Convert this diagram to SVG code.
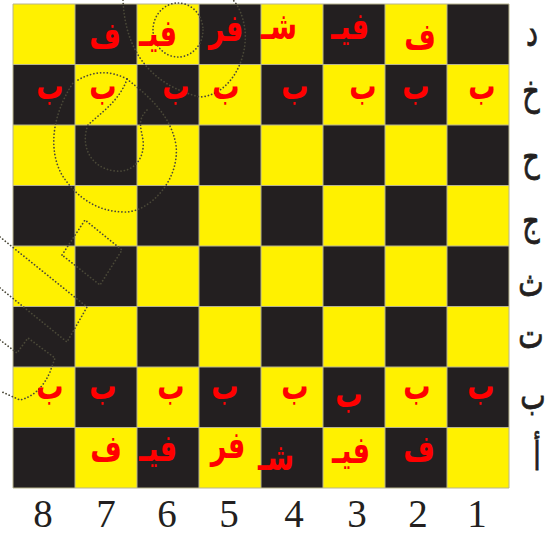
<svg xmlns="http://www.w3.org/2000/svg" width="555" height="535" viewBox="0 0 555 535">
<style>
.y{fill:#FFF100}
.k{fill:#231F20}
.grid{stroke:#B8B48C;stroke-width:1;fill:none}
.p{font-family:"DejaVu Sans",sans-serif;font-weight:bold;font-size:34px;fill:#FF0000;text-anchor:middle}
.r{font-family:"DejaVu Sans",sans-serif;font-size:30px;fill:#231F20;stroke:#231F20;stroke-width:0.6;text-anchor:middle}
.n{font-family:"Liberation Serif",serif;font-size:39px;fill:#231F20;text-anchor:middle}
.dot{fill:none;stroke:#4A4838;stroke-width:1.7;stroke-linecap:round;stroke-dasharray:0.1 3.3}
</style>
<rect width="555" height="535" fill="#FFFFFF"/>
<g id="board">
<rect x="13" y="4" width="496" height="484" class="y"/>
<g class="k">
<rect x="75" y="4" width="62" height="60.5"/><rect x="199" y="4" width="62" height="60.5"/><rect x="323" y="4" width="62" height="60.5"/><rect x="447" y="4" width="62" height="60.5"/>
<rect x="13" y="64.5" width="62" height="60.5"/><rect x="137" y="64.5" width="62" height="60.5"/><rect x="261" y="64.5" width="62" height="60.5"/><rect x="385" y="64.5" width="62" height="60.5"/>
<rect x="75" y="125" width="62" height="60.5"/><rect x="199" y="125" width="62" height="60.5"/><rect x="323" y="125" width="62" height="60.5"/><rect x="447" y="125" width="62" height="60.5"/>
<rect x="13" y="185.5" width="62" height="60.5"/><rect x="137" y="185.5" width="62" height="60.5"/><rect x="261" y="185.5" width="62" height="60.5"/><rect x="385" y="185.5" width="62" height="60.5"/>
<rect x="75" y="246" width="62" height="60.5"/><rect x="199" y="246" width="62" height="60.5"/><rect x="323" y="246" width="62" height="60.5"/><rect x="447" y="246" width="62" height="60.5"/>
<rect x="13" y="306.5" width="62" height="60.5"/><rect x="137" y="306.5" width="62" height="60.5"/><rect x="261" y="306.5" width="62" height="60.5"/><rect x="385" y="306.5" width="62" height="60.5"/>
<rect x="75" y="367" width="62" height="60.5"/><rect x="199" y="367" width="62" height="60.5"/><rect x="323" y="367" width="62" height="60.5"/><rect x="447" y="367" width="62" height="60.5"/>
<rect x="13" y="427.5" width="62" height="60.5"/><rect x="137" y="427.5" width="62" height="60.5"/><rect x="261" y="427.5" width="62" height="60.5"/><rect x="385" y="427.5" width="62" height="60.5"/>
</g>
<path class="grid" d="M13 4H509V488H13Z M75 4V488 M137 4V488 M199 4V488 M261 4V488 M323 4V488 M385 4V488 M447 4V488 M13 64.5H509 M13 125H509 M13 185.5H509 M13 246H509 M13 306.5H509 M13 367H509 M13 427.5H509"/>
</g>
<g id="decoration">
<path class="dot" d="M78 80Q102 66 127 79"/>
<path class="dot" d="M127 79C120 100 102 112 88 125C80 145 90 168 115 171C135 173 145 157 143 140C141 128 137 120 147 110"/>
<path class="dot" d="M127 79C140 90 170 110 176 145C180 180 150 212 125 212C95 212 75 195 62 175C48 150 52 115 73 83"/>
<ellipse class="dot" cx="178" cy="30" rx="25" ry="27"/>
<path class="dot" d="M123 0C125 50 150 85 200 97C230 95 248 60 245 30C243 15 238 5 233 0"/>
<path class="dot" d="M0 237L87 307L67 342L0 288"/>
<path class="dot" d="M62 255L85 220L122 250L100 285Z"/>
<path class="dot" d="M0 340L17 353L28 338L55 358L50 372Q40 395 20 400L0 391"/>
</g>
<g id="pieces">
<g transform="translate(105 48) scale(0.8 1.1)"><text class="p">ف</text></g>
<g transform="translate(158 46) scale(0.8 1.1)"><text class="p">فيـ</text></g>
<g transform="translate(226 41) scale(0.8 1.1)"><text class="p">فر</text></g>
<g transform="translate(279 39) scale(0.8 1.1)"><text class="p">شـ</text></g>
<g transform="translate(350 39) scale(0.8 1.1)"><text class="p">فيـ</text></g>
<g transform="translate(420 49) scale(0.8 1.1)"><text class="p">ف</text></g>
<g transform="translate(50 99) scale(0.8 1.1)"><text class="p">ب</text></g>
<g transform="translate(103 99) scale(0.8 1.1)"><text class="p">ب</text></g>
<g transform="translate(176 99) scale(0.8 1.1)"><text class="p">ب</text></g>
<g transform="translate(226 99) scale(0.8 1.1)"><text class="p">ب</text></g>
<g transform="translate(295 99) scale(0.8 1.1)"><text class="p">ب</text></g>
<g transform="translate(363 99) scale(0.8 1.1)"><text class="p">ب</text></g>
<g transform="translate(416 99) scale(0.8 1.1)"><text class="p">ب</text></g>
<g transform="translate(482 99) scale(0.8 1.1)"><text class="p">ب</text></g>
<g transform="translate(50 399) scale(0.8 1.1)"><text class="p">ب</text></g>
<g transform="translate(103 399) scale(0.8 1.1)"><text class="p">ب</text></g>
<g transform="translate(171 399) scale(0.8 1.1)"><text class="p">ب</text></g>
<g transform="translate(225 399) scale(0.8 1.1)"><text class="p">ب</text></g>
<g transform="translate(295 399) scale(0.8 1.1)"><text class="p">ب</text></g>
<g transform="translate(349 407) scale(0.8 1.1)"><text class="p">ب</text></g>
<g transform="translate(417 399) scale(0.8 1.1)"><text class="p">ب</text></g>
<g transform="translate(481 399) scale(0.8 1.1)"><text class="p">ب</text></g>
<g transform="translate(106 461) scale(0.8 1.1)"><text class="p">ف</text></g>
<g transform="translate(158 461) scale(0.8 1.1)"><text class="p">فيـ</text></g>
<g transform="translate(228 458) scale(0.8 1.1)"><text class="p">فر</text></g>
<g transform="translate(276 470) scale(0.8 1.1)"><text class="p">شـ</text></g>
<g transform="translate(351 463) scale(0.8 1.1)"><text class="p">فيـ</text></g>
<g transform="translate(419 461) scale(0.8 1.1)"><text class="p">ف</text></g>
</g>
<g id="rank-labels">
<g transform="translate(532 46) scale(0.9 1.3)"><text class="r">د</text></g>
<g transform="translate(531 104) scale(0.9 1.3)"><text class="r">خ</text></g>
<g transform="translate(531 170) scale(0.9 1.3)"><text class="r">ح</text></g>
<g transform="translate(531 234) scale(0.9 1.3)"><text class="r">ج</text></g>
<g transform="translate(531 296) scale(0.9 1.3)"><text class="r">ث</text></g>
<g transform="translate(531 348) scale(0.9 1.3)"><text class="r">ت</text></g>
<g transform="translate(533 409) scale(0.9 1.3)"><text class="r">ب</text></g>
<g transform="translate(537 470) scale(0.9 1.3)"><text class="r">أ</text></g>
</g>
<g id="file-labels">
<text class="n" x="43" y="527">8</text>
<text class="n" x="106" y="527">7</text>
<text class="n" x="167" y="527">6</text>
<text class="n" x="229" y="527">5</text>
<text class="n" x="294" y="527">4</text>
<text class="n" x="357" y="527">3</text>
<text class="n" x="418" y="527">2</text>
<text class="n" x="477" y="527">1</text>
</g>
</svg>
